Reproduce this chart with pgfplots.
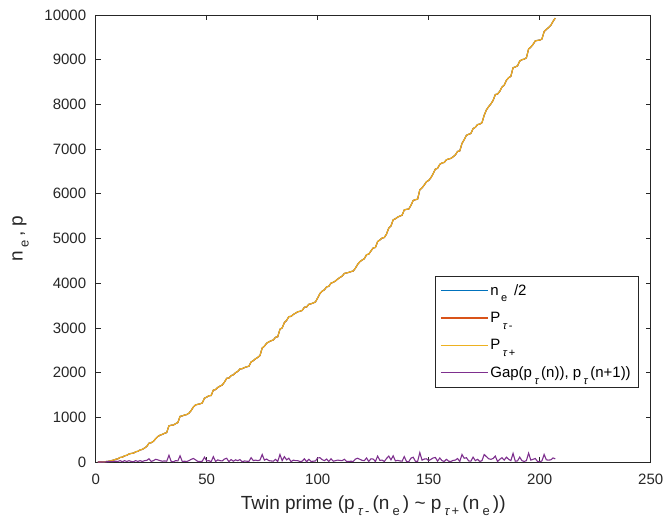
\documentclass[border=0pt]{standalone}
\usepackage{pgfplots}
\pgfplotsset{compat=1.18}
\usepackage{pgfplotstable}
\usepackage{fontspec}
\setmainfont{Liberation Sans}
\definecolor{mblue}{rgb}{0,0.447,0.741}
\definecolor{morange}{rgb}{0.850,0.325,0.098}
\definecolor{myellow}{rgb}{0.929,0.694,0.125}
\definecolor{mpurple}{rgb}{0.494,0.184,0.556}
\definecolor{mgrey}{rgb}{0.15,0.15,0.15}
\newcommand{\sub}[1]{\,\raisebox{-0.85ex}{\fontsize{11bp}{12bp}\selectfont #1}\,}
\newcommand{\subl}[1]{\,\raisebox{-0.6ex}{\fontsize{13bp}{14bp}\selectfont #1}\,}
\newcommand{\tauit}{{\itshape τ}}
\pgfplotstableread{
x pm gap
1 0 0
2 0 0
3 3 0
4 5 2
5 11 6
6 17 6
7 29 12
8 41 12
9 59 18
10 71 12
11 101 30
12 107 6
13 137 30
14 149 12
15 179 30
16 191 12
17 197 6
18 227 30
19 239 12
20 269 30
21 281 12
22 311 30
23 347 36
24 419 72
25 431 12
26 461 30
27 521 60
28 569 48
29 599 30
30 617 18
31 641 24
32 659 18
33 809 150
34 821 12
35 827 6
36 857 30
37 881 24
38 1019 138
39 1031 12
40 1049 18
41 1061 12
42 1091 30
43 1151 60
44 1229 78
45 1277 48
46 1289 12
47 1301 12
48 1319 18
49 1427 108
50 1451 24
51 1481 30
52 1487 6
53 1607 120
54 1619 12
55 1667 48
56 1697 30
57 1721 24
58 1787 66
59 1871 84
60 1877 6
61 1931 54
62 1949 18
63 1997 48
64 2027 30
65 2081 54
66 2087 6
67 2111 24
68 2129 18
69 2141 12
70 2237 96
71 2267 30
72 2309 42
73 2339 30
74 2381 42
75 2549 168
76 2591 42
77 2657 66
78 2687 30
79 2711 24
80 2729 18
81 2789 60
82 2801 12
83 2969 168
84 2999 30
85 3119 120
86 3167 48
87 3251 84
88 3257 6
89 3299 42
90 3329 30
91 3359 30
92 3371 12
93 3389 18
94 3461 72
95 3467 6
96 3527 60
97 3539 12
98 3557 18
99 3581 24
100 3671 90
101 3767 96
102 3821 54
103 3851 30
104 3917 66
105 3929 12
106 4001 72
107 4019 18
108 4049 30
109 4091 42
110 4127 36
111 4157 30
112 4217 60
113 4229 12
114 4241 12
115 4259 18
116 4271 12
117 4337 66
118 4421 84
119 4481 60
120 4517 36
121 4547 30
122 4637 90
123 4649 12
124 4721 72
125 4787 66
126 4799 12
127 4931 132
128 4967 36
129 5009 42
130 5021 12
131 5099 78
132 5231 132
133 5279 48
134 5417 138
135 5441 24
136 5477 36
137 5501 24
138 5519 18
139 5639 120
140 5651 12
141 5657 6
142 5741 84
143 5849 108
144 5867 18
145 5879 12
146 6089 210
147 6131 42
148 6197 66
149 6269 72
150 6299 30
151 6359 60
152 6449 90
153 6551 102
154 6569 18
155 6659 90
156 6689 30
157 6701 12
158 6761 60
159 6779 18
160 6791 12
161 6827 36
162 6869 42
163 6947 78
164 6959 12
165 7127 168
166 7211 84
167 7307 96
168 7331 24
169 7349 18
170 7457 108
171 7487 30
172 7547 60
173 7559 12
174 7589 30
175 7757 168
176 7877 120
177 7949 72
178 8009 60
179 8087 78
180 8219 132
181 8231 12
182 8291 60
183 8387 96
184 8429 42
185 8537 108
186 8597 60
187 8627 30
188 8819 192
189 8837 18
190 8861 24
191 8969 108
192 8999 30
193 9011 12
194 9041 30
195 9239 198
196 9281 42
197 9341 60
198 9419 78
199 9431 12
200 9437 6
201 9461 24
202 9629 168
203 9677 48
204 9719 42
205 9767 48
206 9857 90
207 9929 72
}\data
\begin{document}
\begin{tikzpicture}
\begin{axis}[
  scale only axis, width=555bp, height=447bp,
  xmin=0, xmax=250, ymin=0, ymax=10000,
  xtick={0,50,...,250}, ytick={0,1000,...,10000},
  scaled y ticks=false,
  /pgf/number format/.cd, 1000 sep={}, assume math mode=true, /pgfplots/.cd,
  tick align=inside, major tick length=5bp,
  axis line style={draw=mgrey, line width=0.6bp},
  tick style={draw=mgrey, line width=0.6bp},
  ticklabel style={font=\fontsize{15bp}{17bp}\selectfont, text=mgrey},
  xticklabel style={yshift=-9bp},
  yticklabel style={xshift=-6bp},
  label style={font=\fontsize{19bp}{21bp}\selectfont, text=mgrey},
  xlabel={Twin prime (p\subl{\tauit\,-}(n\subl{e}) \textasciitilde{} p\subl{\tauit\,+}(n\subl{e}))},
  ylabel={n\subl{e}, p},
  xlabel style={at={(axis description cs:0.5,-0.1055)}, anchor=base},
  ylabel style={at={(axis description cs:-0.1315,0.5)}, anchor=base},
  legend cell align=left,
  legend style={name=leg, at={(0.977,0.416)}, anchor=north east, draw=none, fill=white,
    font=\fontsize{15bp}{17bp}\selectfont, inner xsep=5bp, inner ysep=6bp, row sep=11.5bp},
  legend image code/.code={\draw[#1, line width=1.1bp] (0bp,0bp) -- (47bp,0bp);},
  every axis plot/.append style={line width=1.1bp},
]
\addplot[color=mblue] table[x=x, y expr=\thisrow{pm}+1]{\data};
\addplot[color=morange] table[x=x, y=pm]{\data};
\addplot[color=myellow] table[x=x, y expr=\thisrow{pm}+2]{\data};
\addplot[color=mpurple] table[x=x, y=gap]{\data};
\legend{n\sub{e} /2, P\sub{\tauit\,-}, P\sub{\tauit\,+}, {Gap(p\sub{\tauit}(n)), p\sub{\tauit}(n+1))}}
\end{axis}
\draw[mgrey, line width=0.6bp] (leg.south west) rectangle (leg.north east);
\pgfresetboundingbox
\path[use as bounding box] ([shift={(-95.7bp,-56bp)}]current axis.south west) rectangle ([shift={(15.3bp,15bp)}]current axis.north east);
\end{tikzpicture}
\end{document}
